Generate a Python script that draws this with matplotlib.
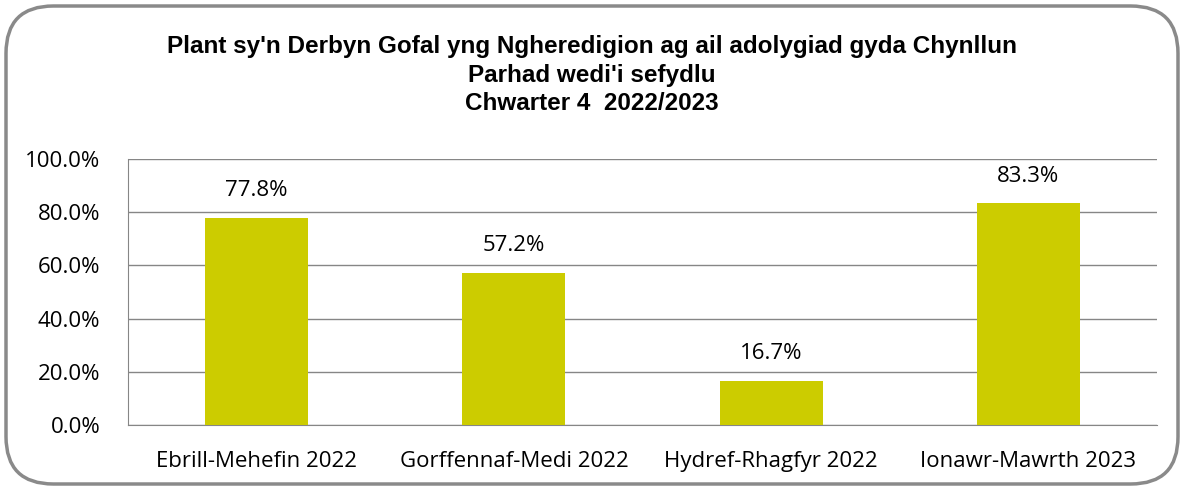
import matplotlib
matplotlib.use("Agg")
import matplotlib.pyplot as plt
from matplotlib.patches import FancyBboxPatch
from matplotlib.ticker import FuncFormatter

categories = ["Ebrill-Mehefin 2022", "Gorffennaf-Medi 2022", "Hydref-Rhagfyr 2022", "Ionawr-Mawrth 2023"]
values = [77.8, 57.2, 16.7, 83.3]
yticks = [0, 20, 40, 60, 80, 100]
title_lines = ["Plant sy'n Derbyn Gofal yng Ngheredigion ag ail adolygiad gyda Chynllun",
               "Parhad wedi'i sefydlu",
               "Chwarter 4  2022/2023"]

W, H = 1184, 490
fig = plt.figure(figsize=(W/100, H/100), dpi=100)
fig.patch.set_facecolor("white")

border = FancyBboxPatch((6/W, 6/H), (W-12)/W, (H-12)/H,
                        boxstyle="round,pad=0,rounding_size=0.04",
                        transform=fig.transFigure, facecolor="none",
                        edgecolor="#8a8a8a", linewidth=2.5, zorder=-1,
                        mutation_aspect=W/H)
fig.patches.append(border)

ax = fig.add_axes([128/W, 1-425/H, (1157-128)/W, (425-159)/H])
ax.set_facecolor("none")
x = range(len(categories))
bars = ax.bar(x, values, width=0.4, color="#CCCC00", zorder=3)
ax.set_xlim(-0.5, len(categories)-0.5)
ax.set_ylim(0, 100)
ax.set_yticks(yticks)
ax.yaxis.set_major_formatter(FuncFormatter(lambda v, p: f"{v:.1f}%"))
ax.grid(axis="y", color="#868686", linewidth=1, zorder=0)
ax.set_xticks(list(x))
ax.set_xticklabels(categories)
for s in ["top", "right"]:
    ax.spines[s].set_visible(False)
ax.spines["left"].set_color("#868686")
ax.spines["bottom"].set_color("#868686")
ax.tick_params(axis="both", length=0, labelsize=16, colors="black")
ax.tick_params(axis="y", pad=20)
ax.tick_params(axis="x", pad=19)
for lab in ax.get_xticklabels() + ax.get_yticklabels():
    lab.set_fontfamily("Open Sans")

for xi, v in zip(x, values):
    ax.annotate(f"{v:.1f}%", (xi, v), xytext=(0, 12), textcoords="offset points",
                ha="center", va="bottom", fontsize=16, family="Open Sans")

for i, line in enumerate(title_lines):
    fig.text(0.5, 1-(47+28.5*i)/H, line, ha="center", va="center", fontsize=17.5,
             fontweight="bold", family="Liberation Sans")

fig.savefig("out.png", dpi=100)
